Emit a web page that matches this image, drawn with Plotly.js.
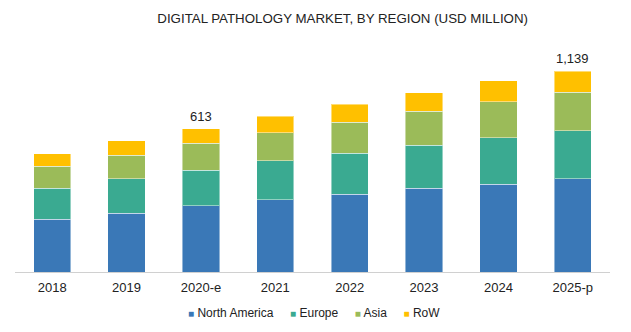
<!DOCTYPE html>
<html>
<head>
<meta charset="utf-8">
<script src="https://cdn.plot.ly/plotly-3.0.1.min.js"></script>
<style>html,body{margin:0;padding:0;background:#fff;}#chart{width:631px;height:332px;}</style>
</head>
<body>
<div id="chart"></div>
<script>
const categories = ["2018", "2019", "2020-e", "2021", "2022", "2023", "2024", "2025-p"];
const northAmerica = [225, 252, 284, 308, 333, 359, 376, 399];
const europe = [133, 147, 152, 167, 175, 184, 197, 205];
const asia = [94, 101, 115, 121, 133, 144, 154, 165];
const row = [54, 62, 62, 71, 76, 80, 90, 90];
const totalLabels = ["", "", "613", "", "", "", "", "1,139"];

const seriesNames = ["North America", "Europe", "Asia", "RoW"];
const seriesValues = [northAmerica, europe, asia, row];
const colors = ["#3A78B7", "#3AAA91", "#9BBB59", "#FFC000"];

const FONT = "Liberation Sans, Arial, sans-serif";

const traces = seriesValues.map((vals, i) => ({
  type: "bar",
  name: seriesNames[i],
  x: categories,
  y: vals,
  marker: {color: colors[i], line: {color: "rgba(255,255,255,0.45)", width: 1}},
  hoverinfo: "skip",
  showlegend: false
}));

const totals = categories.map((c, i) => seriesValues.reduce((s, arr) => s + arr[i], 0));
const annotations = categories.map((c, i) => ({
  x: c, y: totals[i], text: totalLabels[i], showarrow: false,
  yanchor: "bottom", yshift: 3,
  font: {family: FONT, size: 13, color: "#222"}
})).filter(a => a.text !== "");

// legend built as text from the series names and colours
const legendText = seriesNames.map((n, i) =>
  '<span style="color:' + colors[i] + ';font-size:10px">■</span> ' + n
).join("&nbsp;&nbsp;&nbsp;&nbsp;&nbsp;");
annotations.push({
  xref: "paper", yref: "paper", x: 0.502, y: -0.175,
  xanchor: "center", yanchor: "middle", showarrow: false,
  text: legendText,
  font: {family: FONT, size: 12, color: "#222"}
});

const layout = {
  width: 631, height: 332,
  barmode: "stack",
  bargap: 0.5,
  margin: {l: 15, r: 21, t: 40, b: 60, autoexpand: false},
  paper_bgcolor: "#fff", plot_bgcolor: "#fff",
  title: {
    text: "DIGITAL PATHOLOGY MARKET, BY REGION (USD MILLION)",
    font: {family: FONT, size: 13.3, color: "#222"},
    x: 0.543, xref: "container", xanchor: "center",
    y: 0.945, yref: "container", yanchor: "middle"
  },
  xaxis: {
    type: "category",
    showline: true, linecolor: "#d0d0d0", linewidth: 1,
    ticks: "", showgrid: false, ticklabelstandoff: 3,
    tickfont: {family: FONT, size: 13, color: "#222"}
  },
  yaxis: {
    range: [0, 992], visible: false, showgrid: false, zeroline: false
  },
  showlegend: false,
  annotations: annotations
};

Plotly.newPlot("chart", traces, layout, {displayModeBar: false, staticPlot: true});
</script>
</body>
</html>
